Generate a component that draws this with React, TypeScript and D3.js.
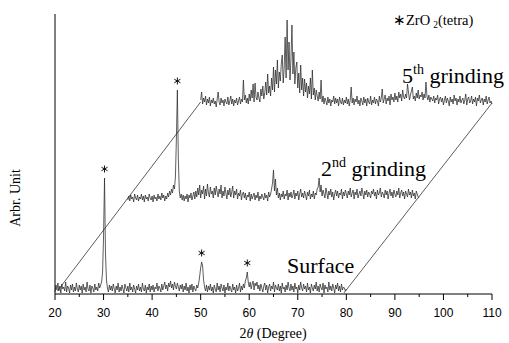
import React from "react";
import * as d3 from "d3";

// 2θ grid of the recorded patterns (original angles), step 0.2°
const START_ANGLE = 20;
const STEP = 0.2;

// Intensities (arbitrary units), 20°–80°
const surface = [
  2,9,4,11,3,8,1,10,5,7,
  3,12,2,8,6,1,9,4,10,2,
  7,3,11,5,2,9,4,8,1,10,
  4,7,2,12,5,3,9,1,8,6,
  2,10,4,7,3,11,6,9,12,22,
  58,116,40,14,6,2,9,4,8,3,
  10,5,1,8,4,11,2,7,3,9,
  5,1,10,6,3,8,2,11,4,7,
  2,9,5,1,8,4,10,3,7,2,
  11,5,3,9,1,7,4,10,2,8,
  4,9,2,7,5,11,3,8,6,2,
  10,4,8,12,5,9,3,11,7,13,
  6,10,4,12,8,5,11,7,3,9,
  5,10,2,8,4,11,3,7,1,9,
  4,10,2,8,5,3,9,6,11,18,
  26,32,28,14,7,3,9,2,8,4,
  10,3,7,1,9,5,2,11,4,8,
  2,10,6,3,9,1,7,4,11,3,
  8,5,2,10,4,7,1,9,3,6,
  11,2,8,4,10,6,13,16,22,12,
  7,12,5,10,13,4,11,8,12,5,
  9,3,10,6,2,8,11,4,9,1,
  7,10,3,8,5,12,2,9,6,4,
  10,3,8,1,11,5,7,2,9,4,
  12,6,3,10,4,8,2,11,5,7,
  1,9,4,12,6,3,10,5,8,2,
  11,4,7,1,10,6,3,9,5,12,
  3,8,2,10,6,4,11,1,9,5,
  7,2,12,4,8,3,10,6,1,9,
  5,11,3,8,2,10,4,7,6,3,
  5,
];

const second = [
  3,7,2,8,4,6,1,9,5,3,
  8,2,6,4,9,3,7,1,8,4,
  6,2,9,5,3,7,1,8,4,6,
  2,9,4,7,3,10,5,8,2,7,
  4,10,6,12,8,14,10,18,14,26,
  64,113,44,12,5,9,3,8,2,7,
  4,9,1,8,5,10,3,7,11,4,
  12,6,15,8,18,5,13,9,17,4,
  14,7,19,10,6,16,9,12,5,15,
  8,17,11,6,14,9,18,5,12,7,
  16,10,4,13,8,15,6,11,17,5,
  12,8,14,4,10,7,13,3,9,11,
  5,10,3,8,6,11,2,9,4,7,
  10,3,8,5,11,2,7,4,9,6,
  3,10,5,8,2,11,6,9,14,20,
  33,12,24,8,15,5,10,3,9,6,
  12,4,9,7,13,3,10,6,11,5,
  8,13,4,10,7,12,3,9,14,6,
  10,5,12,8,3,11,7,13,4,9,
  6,12,4,10,8,14,16,25,11,18,
  7,13,9,5,15,10,4,12,8,14,
  6,11,3,9,13,7,12,5,10,8,
  14,4,11,7,13,9,5,12,8,15,
  6,10,13,4,11,8,14,5,9,12,
  7,15,10,4,12,8,13,6,11,9,
  5,12,9,14,7,11,4,13,8,10,
  15,6,11,9,5,13,8,12,4,10,
  14,7,11,5,13,9,6,12,8,15,
  5,10,13,7,11,4,12,9,6,14,
  8,11,5,13,7,10,4,12,9,6,
  5,
];

const fifth = [
  8,16,4,10,6,12,3,9,5,11,
  2,8,5,10,4,7,1,9,16,6,
  3,10,5,8,2,9,6,4,11,3,
  7,12,4,9,2,8,5,10,3,7,
  11,4,9,6,28,8,13,5,10,4,
  14,7,18,10,24,6,25,11,8,16,
  10,6,19,12,22,9,15,26,13,34,
  15,22,12,30,18,41,16,38,24,48,
  20,36,27,44,53,25,40,71,30,88,
  38,66,28,50,83,34,56,24,40,46,
  20,35,15,43,18,30,12,29,16,25,
  10,22,14,30,9,38,13,20,8,18,
  12,7,16,9,28,6,12,4,10,7,
  3,11,5,9,2,8,6,12,4,10,
  5,9,2,11,6,4,10,3,8,5,
  11,4,9,2,8,21,5,10,3,9,
  6,12,4,8,2,10,7,3,11,5,
  9,2,10,6,4,12,3,8,5,11,
  4,9,7,2,12,6,10,19,5,9,
  13,4,10,7,12,3,14,8,11,6,
  15,8,12,6,16,10,14,7,18,11,
  9,14,10,24,16,8,13,17,21,9,
  12,7,15,10,18,9,13,11,16,8,
  14,10,26,12,8,13,6,11,9,7,
  12,5,10,8,13,4,9,11,6,10,
  3,8,12,5,10,7,2,11,6,9,
  4,13,7,10,3,9,6,12,5,8,
  10,4,8,14,3,9,11,5,7,12,
  4,9,6,11,2,10,7,13,5,8,
  10,3,9,6,12,4,8,11,5,7,
  4,
];

const seriesValues = [surface, second, fifth];
const seriesNames = ["Surface", "2", "5"];
const seriesSup = ["", "nd", "th"];
// waterfall offsets: 2θ shift (°) and intensity shift
const xShift = [0, 15, 30];
const yShift = [0, 91, 186];

// peaks marked with * (series index, original angle)
const markSeries = [0, 0, 0, 1];
const markAngle = [30.2, 50.2, 59.6, 30.2];

// perspective frame lines [angle, intensity]
const frameLeft: [number, number][] = [[20.5, 3], [50, 192]];
const frameRight: [number, number][] = [[79.5, 1], [110, 191]];

const xMajor = [20, 30, 40, 50, 60, 70, 80, 90, 100, 110];
const xMinor = [25, 35, 45, 55, 65, 75, 85, 95, 105];

const W = 509;
const H = 343;
const SERIF = "'Liberation Serif', 'Times New Roman', serif";
const SANS = "'Liberation Sans', Arial, sans-serif";

export default function App() {
  const x = d3.scaleLinear().domain([20, 110]).range([55, 492]);
  const y = d3.scaleLinear().domain([0, 280]).range([294, 14]);

  const line = d3
    .line<[number, number]>()
    .x((d) => x(d[0]))
    .y((d) => y(d[1]));

  const tracePts = seriesValues.map((vals, k) =>
    vals.map((v, i) => [START_ANGLE + i * STEP + xShift[k], v + yShift[k]] as [number, number])
  );

  const star = d3.symbol().type(d3.symbolAsterisk).size(34)() || "";

  const labelPos = [
    { x: 287, y: 273 },
    { x: 321, y: 176 },
    { x: 402, y: 83 },
  ];

  return (
    <svg
      width={W}
      height={H}
      style={{ position: "absolute", left: 0, top: 0, background: "#fff" }}
    >
      {/* frame lines */}
      <path d={line(frameLeft) || ""} fill="none" stroke="#333" strokeWidth={0.8} />
      <path d={line(frameRight) || ""} fill="none" stroke="#333" strokeWidth={0.8} />

      {/* traces */}
      {tracePts.map((pts, k) => (
        <path
          key={k}
          d={line(pts) || ""}
          fill="none"
          stroke="#2a2a2a"
          strokeWidth={0.75}
          strokeLinejoin="round"
        />
      ))}

      {/* asterisks over ZrO2 peaks */}
      {markSeries.map((s, j) => {
        const idx = Math.round((markAngle[j] - START_ANGLE) / STEP);
        const top = seriesValues[s][idx] + yShift[s];
        return (
          <path
            key={j}
            d={star}
            transform={`translate(${x(markAngle[j] + xShift[s])},${y(top) - 9})`}
            fill="none"
            stroke="#111"
            strokeWidth={1}
          />
        );
      })}

      {/* series labels */}
      {seriesNames.map((n, k) => (
        <text
          key={k}
          x={labelPos[k].x}
          y={labelPos[k].y}
          fontFamily={SERIF}
          fontSize={22}
          fill="#000"
        >
          {n}
          {seriesSup[k] && (
            <>
              <tspan dy={-9} fontSize={14}>
                {seriesSup[k]}
              </tspan>
              <tspan dy={9}> grinding</tspan>
            </>
          )}
        </text>
      ))}

      {/* legend note */}
      <text x={393} y={25} fontFamily={SERIF} fontSize={14.5} fill="#000">
        ∗ZrO
        <tspan dx={3} dy={3} fontSize={9.5}>
          2
        </tspan>
        <tspan dy={-3}>(tetra)</tspan>
      </text>

      {/* y axis */}
      <line x1={55} x2={55} y1={y(280)} y2={y(0)} stroke="#000" strokeWidth={1} />
      <text
        transform={`translate(20,198) rotate(-90)`}
        textAnchor="middle"
        fontFamily={SERIF}
        fontSize={14}
        fill="#000"
      >
        Arbr. Unit
      </text>

      {/* x axis */}
      <line x1={x(20)} x2={x(110)} y1={y(0)} y2={y(0)} stroke="#000" strokeWidth={1} />
      {xMajor.map((t) => (
        <g key={"M" + t}>
          <line x1={x(t)} x2={x(t)} y1={y(0)} y2={y(0) + 6} stroke="#000" strokeWidth={1} />
          <text
            x={x(t)}
            y={317}
            textAnchor="middle"
            fontFamily={SANS}
            fontSize={12}
            fill="#000"
          >
            {t}
          </text>
        </g>
      ))}
      {xMinor.map((t) => (
        <line key={"m" + t} x1={x(t)} x2={x(t)} y1={y(0)} y2={y(0) + 3} stroke="#000" strokeWidth={1} />
      ))}
      <text x={273} y={338} textAnchor="middle" fontFamily={SERIF} fontSize={14} fill="#000">
        2<tspan fontStyle="italic">θ</tspan> (Degree)
      </text>
    </svg>
  );
}
